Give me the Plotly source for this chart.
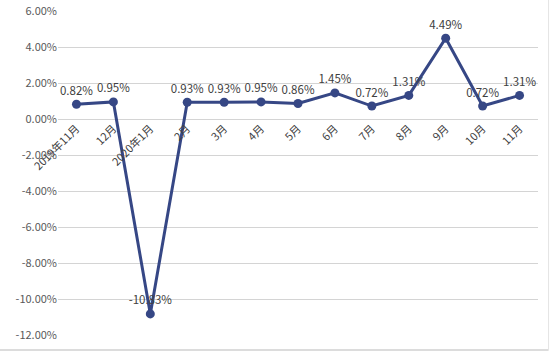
import plotly.graph_objects as go

categories = ["2019年11月", "12月", "2020年1月", "2月", "3月", "4月", "5月", "6月", "7月", "8月", "9月", "10月", "11月"]
values = [0.82, 0.95, -10.83, 0.93, 0.93, 0.95, 0.86, 1.45, 0.72, 1.31, 4.49, 0.72, 1.31]
labels = [f"{v:.2f}%" for v in values]
y_ticks = [6, 4, 2, 0, -2, -4, -6, -8, -10, -12]
y_tick_labels = [f"{v:.2f}%" for v in y_ticks]

font_family = "Noto Sans CJK SC, DejaVu Sans, sans-serif"
line_color = "#364785"

fig = go.Figure()
fig.add_trace(go.Scatter(
    x=list(range(len(categories))),
    y=values,
    mode="lines+markers+text",
    text=labels,
    textposition="top center",
    textfont=dict(family=font_family, size=11.5, color="#404040"),
    line=dict(color=line_color, width=3),
    marker=dict(color=line_color, size=9),
    cliponaxis=False,
    hoverinfo="skip",
))

# faint frame of the chart area (bottom and right edges)
fig.add_shape(type="line", xref="paper", yref="paper", x0=-0.13, x1=1.022, y0=-0.046, y1=-0.046,
              line=dict(color="#d0d0d0", width=1.5))
fig.add_shape(type="line", xref="paper", yref="paper", x0=1.022, x1=1.022, y0=-0.046, y1=1.04,
              line=dict(color="#e4e4e4", width=1))

fig.update_layout(
    width=553, height=353,
    margin=dict(l=58, r=15, t=11, b=18, autoexpand=False),
    paper_bgcolor="white",
    plot_bgcolor="white",
    showlegend=False,
    font=dict(family=font_family, size=11, color="#595959"),
    xaxis=dict(
        range=[-0.5, len(categories) - 0.5],
        tickmode="array",
        tickvals=list(range(len(categories))),
        ticktext=categories,
        tickangle=-45,
        showgrid=False,
        zeroline=False,
        showline=False,
        ticks="",
        anchor="free",
        position=12 / 18,
        automargin=False,
        tickfont=dict(family=font_family, size=11, color="#404040"),
    ),
    yaxis=dict(
        range=[-12, 6],
        tickmode="array",
        tickvals=y_ticks,
        ticktext=y_tick_labels,
        showgrid=True,
        gridcolor="#d4d4d4",
        gridwidth=1,
        zeroline=False,
        showline=False,
        ticks="",
        automargin=False,
        tickfont=dict(family=font_family, size=11, color="#595959"),
    ),
)

fig.write_html("out.html")
